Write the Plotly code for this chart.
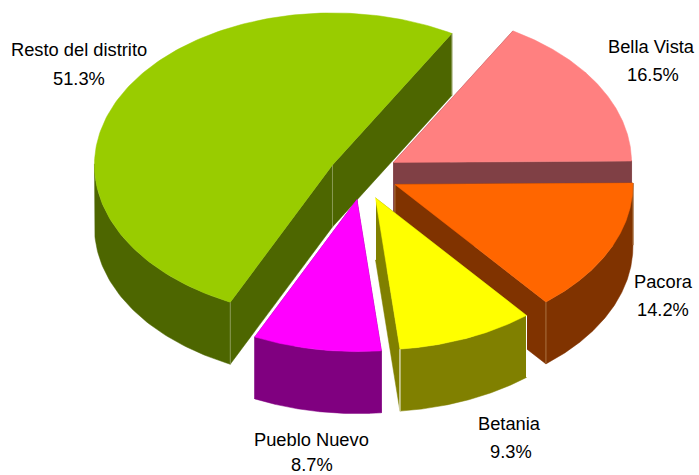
import numpy as np
import plotly.graph_objects as go

# Data
categories = ["Bella Vista", "Pacora", "Betania", "Pueblo Nuevo", "Resto del distrito"]
shares = [16.5, 14.2, 9.3, 8.7, 51.3]

# Styles
top_colors = ["#FF8080", "#FF6600", "#FFFF00", "#FF00FF", "#99CC00"]
wall_colors = ["#804045", "#803300", "#808000", "#800080", "#4D6600"]
edge_colors = [None, "#A8703F", "#FFFFFF", None, "#8A9A55"]
name_xy = [(651, 46), (663, 281), (509, 423), (311, 439), (79, 49)]
pct_xy = [(653, 74), (663, 309), (511, 451), (312, 464), (79, 78)]

# Pie projection (pixel space of the hidden axes)
W, H = 699, 475
CX, CY = 363.6, 173.0
RX, RY = 238.0, 152.0
EX, EY = 33.5, 27.0
DEPTH = 62.0
START = 59.9
draw_order = [4, 0, 1, 2, 3]
slice_nudge = [(1, 3), (1, 0), (-1, 0), (-1, 0), (-1.5, 4.5)]
FONT = dict(family="Liberation Sans, Arial, sans-serif", size=18.3, color="#000000")


def rim(ax, ay, deg):
    t = np.radians(deg)
    return ax + RX * np.cos(t), ay - RY * np.sin(t)


fig = go.Figure()


def poly(xs, ys, color):
    fig.add_trace(go.Scatter(x=list(xs), y=list(ys), mode="lines", fill="toself",
                             fillcolor=color, line=dict(color=color, width=0.5),
                             hoverinfo="skip", showlegend=False))


# clockwise from START: each slice spans its share of 360 degrees
ends = START - np.cumsum(shares) * 3.6
begins = np.concatenate([[START], ends[:-1]])

for i in draw_order:
    a0, a1 = begins[i], ends[i]
    mid = np.radians((a0 + a1) / 2)
    ax = CX + EX * np.cos(mid) + slice_nudge[i][0]
    ay = CY - EY * np.sin(mid) + slice_nudge[i][1]
    angs = np.linspace(a0, a1, 180)
    rx, ry = rim(ax, ay, angs)
    wall = wall_colors[i]

    # cut faces
    for e in (0, -1):
        poly([ax, rx[e], rx[e], ax, ax], [ay, ry[e], ry[e] + DEPTH, ay + DEPTH, ay], wall)

    # outer wall: only the front half of the rim can be seen
    front = np.sin(np.radians(angs)) <= 0.02
    if front.any():
        fx, fy = rx[front], ry[front]
        poly(np.r_[fx, fx[::-1], fx[0]], np.r_[fy, fy[::-1] + DEPTH, fy[0]], wall)

    # vertical edges
    if edge_colors[i]:
        for vx, vy in ((ax, ay), (rx[0], ry[0]), (rx[-1], ry[-1])):
            fig.add_trace(go.Scatter(x=[vx, vx], y=[vy, vy + DEPTH], mode="lines",
                                     line=dict(color=edge_colors[i], width=1),
                                     hoverinfo="skip", showlegend=False))

    # top face
    poly(np.r_[ax, rx, ax], np.r_[ay, ry, ay], top_colors[i])

for name, share, (nx, ny), (px, py) in zip(categories, shares, name_xy, pct_xy):
    fig.add_annotation(x=nx, y=ny, text=name, showarrow=False, xref="x", yref="y", font=FONT)
    fig.add_annotation(x=px, y=py, text=f"{share:.1f}%", showarrow=False, xref="x", yref="y", font=FONT)

fig.update_xaxes(range=[0, W], visible=False, fixedrange=True)
fig.update_yaxes(range=[H, 0], visible=False, fixedrange=True)
fig.update_layout(width=W, height=H, margin=dict(l=0, r=0, t=0, b=0),
                  paper_bgcolor="white", plot_bgcolor="white", showlegend=False)
fig.write_html("out.html", config={"displayModeBar": False},
               post_script="document.body.style.margin='0';")
